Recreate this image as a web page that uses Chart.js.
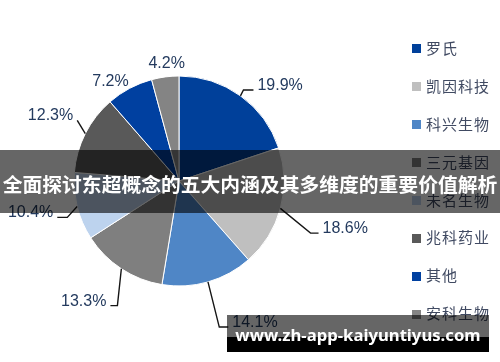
<!DOCTYPE html>
<html>
<head>
<meta charset="utf-8">
<script src="https://cdn.jsdelivr.net/npm/chart.js@4"></script>
<style>
    html, body { margin: 0; padding: 0; background: #fff; }
    #wrap { position: relative; width: 500px; height: 362px; overflow: hidden; }
    #chart { position: absolute; left: 0; top: 0; }
    #legend { position: absolute; left: 412px; top: 29px; font: 15px "Noto Sans CJK SC", sans-serif; color: #404a62; letter-spacing: 1px; }
    #legend .row { height: 37.9px; line-height: 37.9px; white-space: nowrap; }
    #legend .box { display: inline-block; width: 9px; height: 9px; margin-right: 5px; vertical-align: middle; position: relative; top: -1px; }
    #title { position: absolute; left: 0; top: 150px; width: 500px; height: 63px; background: rgba(0, 0, 0, 0.6);
        color: #fff; font: bold 19.8px "Noto Sans CJK SC", sans-serif; text-align: center; line-height: 68px; white-space: nowrap; }
    #site { position: absolute; left: 227px; top: 315px; width: 262px; height: 37px;
        background: linear-gradient(to bottom, rgba(0, 0, 0, 0.6) 0, rgba(0, 0, 0, 0.6) 22px, #000 22px, #000 37px);
        color: #fff; font: bold 16.7px "Noto Sans", sans-serif; text-align: center; line-height: 40px; white-space: nowrap; }
</style>
</head>
<body>
<div id="wrap">
    <canvas id="chart" width="500" height="362"></canvas>
    <div id="legend"></div>
    <div id="title">全面探讨东超概念的五大内涵及其多维度的重要价值解析</div>
    <div id="site">www.zh-app-kaiyuntiyus.com</div>
</div>
<script>
(function () {
    // 数据
    const companies = ['罗氏', '凯因科技', '科兴生物', '三元基因', '未名生物', '兆科药业', '其他', '安科生物'];
    const shares = [19.9, 18.6, 14.1, 13.3, 10.4, 12.3, 7.2, 4.2];

    // 样式
    const palette = ['#00409A', '#BFBFBF', '#4F86C6', '#7F7F7F', '#BDD3EE', '#595959', '#0040A0', '#848484'];
    const labelColor = '#233a5e';
    // 标签位置: 距饼边的距离, 角度偏移(度), 引线横段长度 (null = 无引线)
    const labelPull = [6.5, 36.5, 46.5, 34, 12.5, 13.5, 16, 13.5];
    const labelTurn = [-0.5, 6.5, 0.6, -7, -4, 4, -6.4, 1.6];
    const labelTick = [10, 8, 9, -7, -10, 0, null, null];

    const pieLabels = {
        id: 'pieLabels',
        afterDatasetsDraw(chart) {
            const ctx = chart.ctx;
            const arcs = chart.getDatasetMeta(0).data;
            ctx.save();
            ctx.font = '16px "Liberation Sans", Arial, sans-serif';
            ctx.fillStyle = labelColor;
            ctx.strokeStyle = '#151515';
            ctx.lineWidth = 1.4;
            arcs.forEach((arc, i) => {
                const p = arc.getProps(['x', 'y', 'startAngle', 'endAngle', 'outerRadius'], true);
                const mid = (p.startAngle + p.endAngle) / 2;
                const text = shares[i].toFixed(1) + '%';
                const a = mid + labelTurn[i] * Math.PI / 180;
                const r = p.outerRadius + labelPull[i];
                const ex = p.x + r * Math.cos(a);
                const ey = p.y + r * Math.sin(a);
                ctx.textBaseline = 'middle';
                if (labelTick[i] === null) {
                    ctx.textAlign = 'center';
                    ctx.fillText(text, ex, ey);
                    return;
                }
                const side = labelTick[i] !== 0 ? Math.sign(labelTick[i]) : Math.sign(ex - p.x);
                const sx = p.x + p.outerRadius * Math.cos(mid);
                const sy = p.y + p.outerRadius * Math.sin(mid);
                ctx.beginPath();
                ctx.moveTo(sx, sy);
                ctx.lineTo(ex, ey);
                ctx.lineTo(ex + labelTick[i], ey);
                ctx.stroke();
                ctx.textAlign = side > 0 ? 'left' : 'right';
                ctx.fillText(text, ex + labelTick[i] + side * 4, ey - 4.5);
            });
            ctx.restore();
        }
    };

    new Chart('chart', {
        type: 'pie',
        data: {
            labels: companies,
            datasets: [{
                data: shares,
                backgroundColor: palette,
                borderColor: '#ffffff',
                borderWidth: 1
            }]
        },
        options: {
            responsive: false,
            animation: false,
            radius: 105,
            layout: { padding: { left: 0, right: 142, top: 0, bottom: 0 } },
            plugins: {
                legend: { display: false },
                tooltip: { enabled: false }
            }
        },
        plugins: [pieLabels]
    });

    // 图例
    const legend = document.getElementById('legend');
    companies.forEach((name, i) => {
        const row = document.createElement('div');
        row.className = 'row';
        const box = document.createElement('span');
        box.className = 'box';
        box.style.background = palette[i];
        row.appendChild(box);
        row.appendChild(document.createTextNode(name));
        legend.appendChild(row);
    });
})();
</script>
</body>
</html>
